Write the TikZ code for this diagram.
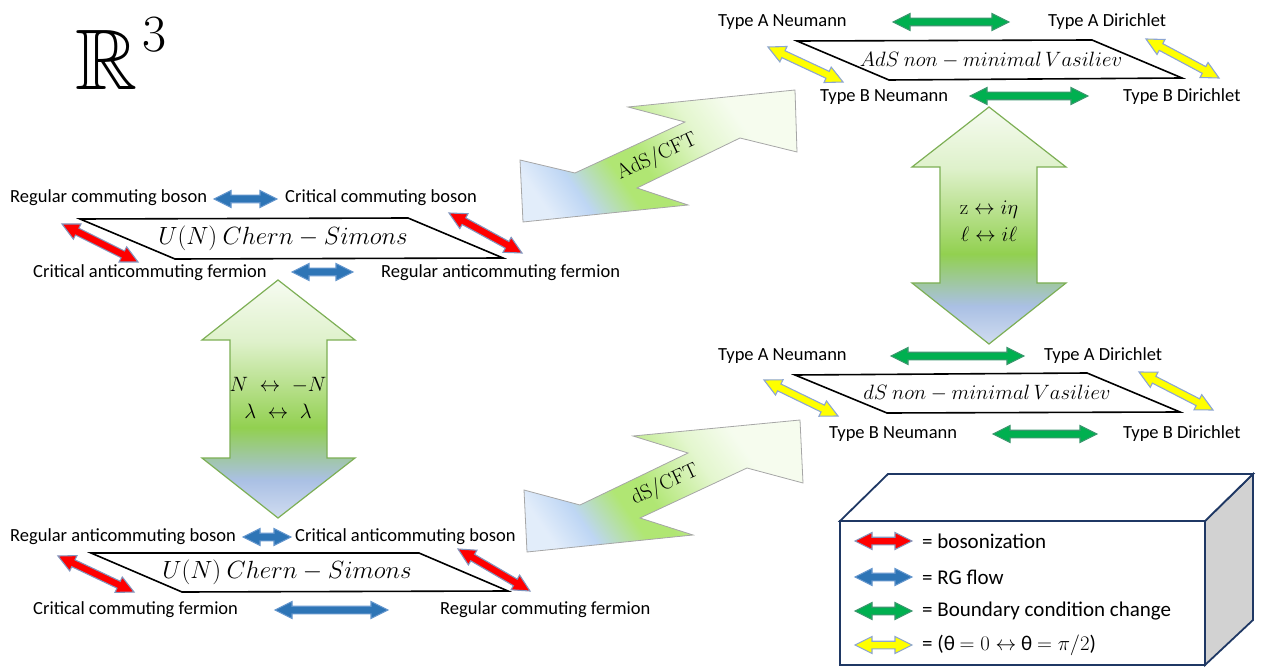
\documentclass[tikz,border=0pt]{standalone}
\usepackage{amssymb}
\usepackage[no-math]{fontspec}
\setmainfont{Carlito}
\usetikzlibrary{calc}

\definecolor{bosred}{RGB}{255,0,0}
\definecolor{bosedge}{RGB}{130,150,190}
\definecolor{rgblue}{RGB}{46,117,182}
\definecolor{rgedge}{RGB}{100,150,205}
\definecolor{bcgreen}{RGB}{0,176,80}
\definecolor{bcedge}{RGB}{60,150,110}
\definecolor{thyellow}{RGB}{255,255,0}
\definecolor{thedge}{RGB}{140,165,210}
\definecolor{dualgreen}{RGB}{146,208,80}
\definecolor{dualblue}{RGB}{170,192,228}
\definecolor{dualedge}{RGB}{125,175,85}
\definecolor{cftgreen}{RGB}{176,230,115}
\definecolor{cftblue}{RGB}{190,214,244}
\definecolor{navy}{RGB}{31,56,100}

\pgfdeclareverticalshading{bigarrowshade}{100bp}{color(0bp)=(dualblue!55!white); color(25bp)=(dualblue!55!white); color(33bp)=(dualblue); color(44bp)=(dualgreen); color(62bp)=(dualgreen!30!white); color(75bp)=(dualgreen!8!white); color(100bp)=(dualgreen!8!white)}
\pgfdeclarehorizontalshading{cftshade}{100bp}{color(0bp)=(cftblue!45!white); color(22bp)=(cftblue!45!white); color(30bp)=(cftblue); color(40bp)=(cftgreen); color(46bp)=(cftgreen); color(60bp)=(cftgreen!35!white); color(70bp)=(cftgreen!12!white); color(100bp)=(cftgreen!12!white)}

\newcommand{\arrowhl}{17pt}
\newcommand{\arrowhw}{8.5pt}
\newcommand{\arrowsw}{3.8pt}
\newcommand{\fatarrow}[3]{%
\draw[#1] (#2) -- ($(#2)!\arrowhl!(#3)!\arrowhw!90:(#3)$) -- ($(#2)!\arrowhl!(#3)!\arrowsw!90:(#3)$) -- ($(#3)!\arrowhl!(#2)!\arrowsw!-90:(#2)$) -- ($(#3)!\arrowhl!(#2)!\arrowhw!-90:(#2)$) -- (#3) -- ($(#3)!\arrowhl!(#2)!\arrowhw!90:(#2)$) -- ($(#3)!\arrowhl!(#2)!\arrowsw!90:(#2)$) -- ($(#2)!\arrowhl!(#3)!\arrowsw!-90:(#3)$) -- ($(#2)!\arrowhl!(#3)!\arrowhw!-90:(#3)$) -- cycle;}

\begin{document}
\begin{tikzpicture}[x=1pt,y=-1pt]

\tikzset{lbl/.style = {anchor=west, inner sep=0pt, font=\fontsize{18.5}{20}\selectfont}}
\tikzset{legendtext/.style = {anchor=west, inner sep=0pt, font=\fontsize{21}{24}\selectfont}}
\tikzset{theory/.style = {draw=black, line width=1.6pt, fill=white, line join=miter}}
\tikzset{theorytext/.style = {inner sep=0pt, font=\fontsize{24}{28}\selectfont}}
\tikzset{bosonization/.style = {fill=bosred, draw=bosedge, line width=1.1pt}}
\tikzset{rgflow/.style = {fill=rgblue, draw=rgedge, line width=1.1pt}}
\tikzset{bcchange/.style = {fill=bcgreen, draw=bcedge, line width=1.1pt}}
\tikzset{thetaflip/.style = {fill=thyellow, draw=thedge, line width=1.1pt}}
\tikzset{duality/.style = {draw=dualedge, line width=1.2pt, shading=bigarrowshade}}
\tikzset{holography/.style = {draw=gray!70, line width=0.8pt, shading=cftshade, shading angle=35}}
\tikzset{maptext/.style = {align=center, inner sep=0pt, font=\fontsize{20}{27}\selectfont}}
\tikzset{legendbox/.style = {draw=navy, line width=1.8pt, line join=miter}}

\useasboundingbox (0,0) rectangle (1261,668);

\node[anchor=base west, inner sep=0pt, font=\fontsize{86}{86}\selectfont] (space) at (75,90) {$\mathbb{R}$};
\node[inner sep=0pt, scale=2.1, font=\fontsize{24.88}{30}\selectfont] (dim) at (154,35) {$3$};

%big arrows
\shadedraw[duality] (278,280) -- (355,340) -- (327,340) -- (327,458) -- (355,458) -- (278,518) -- (202,458) -- (230,458) -- (230,340) -- (202,340) -- cycle;
\shadedraw[duality] (989,107) -- (1066,167) -- (1037,167) -- (1037,283) -- (1066,283) -- (989,344) -- (912,283) -- (940,283) -- (940,167) -- (912,167) -- cycle;
\shadedraw[holography] (520,160) -- (523,222) -- (688,205) -- (637,188) -- (740,138) -- (797,152) -- (795,90) -- (628,107) -- (685,122) -- (575,173) -- cycle;
\shadedraw[holography] (524,490) -- (527,552) -- (693,535) -- (640,518) -- (747,468) -- (803,483) -- (800,420) -- (633,436) -- (688,453) -- (580,505) -- cycle;
\node[maptext] (levelrank) at (278,398) {$N \;\leftrightarrow\; -N$\\$\lambda \;\leftrightarrow\; \lambda$};
\node[maptext] (wickrot) at (989,221) {$\mathrm{z} \leftrightarrow i\eta$\\$\ell \leftrightarrow i\ell$};
\node[font=\fontsize{20}{24}\selectfont, rotate=25] (adscft) at (657,157) {$\mathrm{AdS}/\mathrm{CFT}$};
\node[font=\fontsize{20}{24}\selectfont, rotate=25] (dscft) at (665,485) {$\mathrm{dS}/\mathrm{CFT}$};

%upper Chern-Simons
\draw[theory] (80,219) -- (408,218) -- (503,258) -- (175,259) -- cycle;
\node[theorytext] (csup) at (283,238) {$U(N)\ Chern - Simons$};
\node[lbl] (rcb) at (10,198) {Regular commuting boson};
\node[lbl] (ccb) at (285,198) {Critical commuting boson};
\node[lbl] (caf) at (33,273) {Critical anticommuting fermion};
\node[lbl] (raf) at (381,273) {Regular anticommuting fermion};
\coordinate (up-rl1) at (62,224);
\coordinate (up-rl2) at (138,262);
\coordinate (up-rr1) at (449,213);
\coordinate (up-rr2) at (522,253);
\coordinate (up-bu1) at (214,199);
\coordinate (up-bu2) at (277,199);
\coordinate (up-bd1) at (292,272);
\coordinate (up-bd2) at (353,272);
\fatarrow{bosonization}{up-rl1}{up-rl2}
\fatarrow{bosonization}{up-rr1}{up-rr2}
\fatarrow{rgflow}{up-bu1}{up-bu2}
\fatarrow{rgflow}{up-bd1}{up-bd2}

%lower Chern-Simons
\draw[theory] (91,553) -- (419,553) -- (508,591) -- (182,592) -- cycle;
\node[theorytext] (csdown) at (287,572) {$U(N)\ Chern - Simons$};
\node[lbl] (rab) at (10,537) {Regular anticommuting boson};
\node[lbl] (cab) at (295,537) {Critical anticommuting boson};
\node[lbl] (ccf) at (33,610) {Critical commuting fermion};
\node[lbl] (rcf) at (440,610) {Regular commuting fermion};
\coordinate (dn-rl1) at (58,556);
\coordinate (dn-rl2) at (134,592);
\coordinate (dn-rr1) at (458,549);
\coordinate (dn-rr2) at (530,591);
\coordinate (dn-bu1) at (243,537);
\coordinate (dn-bu2) at (291,537);
\coordinate (dn-bd1) at (275,610);
\coordinate (dn-bd2) at (388,610);
\fatarrow{bosonization}{dn-rl1}{dn-rl2}
\fatarrow{bosonization}{dn-rr1}{dn-rr2}
\fatarrow{rgflow}{dn-bu1}{dn-bu2}
\fatarrow{rgflow}{dn-bd1}{dn-bd2}

%AdS Vasiliev
\draw[theory] (797,41) -- (1092,40) -- (1182,78) -- (889,80) -- cycle;
\node[theorytext, font=\fontsize{20}{24}\selectfont] (adsvas) at (991,60) {$AdS\ non - minimal\, Vasiliev$};
\node[lbl] (ads-an) at (718,22) {Type A Neumann};
\node[lbl] (ads-ad) at (1048,22) {Type A Dirichlet};
\node[lbl] (ads-bn) at (820,97) {Type B Neumann};
\node[lbl] (ads-bd) at (1123,97) {Type B Dirichlet};
\coordinate (ads-gu1) at (893,22);
\coordinate (ads-gu2) at (1009,22);
\coordinate (ads-gd1) at (970,96);
\coordinate (ads-gd2) at (1088,96);
\coordinate (ads-yl1) at (768,47);
\coordinate (ads-yl2) at (843,82);
\coordinate (ads-yr1) at (1146,39);
\coordinate (ads-yr2) at (1219,78);
\fatarrow{bcchange}{ads-gu1}{ads-gu2}
\fatarrow{bcchange}{ads-gd1}{ads-gd2}
\fatarrow{thetaflip}{ads-yl1}{ads-yl2}
\fatarrow{thetaflip}{ads-yr1}{ads-yr2}

%dS Vasiliev
\draw[theory] (795,375) -- (1087,373) -- (1180,412) -- (887,413) -- cycle;
\node[theorytext, font=\fontsize{20}{24}\selectfont] (dsvas) at (987,393) {$dS\ non - minimal\, Vasiliev$};
\node[lbl] (ds-an) at (718,356) {Type A Neumann};
\node[lbl] (ds-ad) at (1044,356) {Type A Dirichlet};
\node[lbl] (ds-bn) at (829,434) {Type B Neumann};
\node[lbl] (ds-bd) at (1123,434) {Type B Dirichlet};
\coordinate (ds-gu1) at (891,356);
\coordinate (ds-gu2) at (1024,356);
\coordinate (ds-gd1) at (993,434);
\coordinate (ds-gd2) at (1097,434);
\coordinate (ds-yl1) at (764,380);
\coordinate (ds-yl2) at (838,416);
\coordinate (ds-yr1) at (1139,372);
\coordinate (ds-yr2) at (1213,410);
\fatarrow{bcchange}{ds-gu1}{ds-gu2}
\fatarrow{bcchange}{ds-gd1}{ds-gd2}
\fatarrow{thetaflip}{ds-yl1}{ds-yl2}
\fatarrow{thetaflip}{ds-yr1}{ds-yr2}

%legend
\draw[legendbox, fill=gray!35] (1205,521) -- (1253,474) -- (1253,620) -- (1205,665) -- cycle;
\draw[legendbox, fill=white] (840,521) -- (888,474) -- (1253,474) -- (1205,521) -- cycle;
\draw[legendbox, fill=white] (840,521) rectangle (1205,665);
\foreach \y/\sty/\txt in {541/bosonization/{= bosonization}, 577/rgflow/{= RG flow}, 611/bcchange/{= Boundary condition change}, 645/thetaflip/{= (θ $= 0 \leftrightarrow$ θ $= \pi/2$)}}{
  \coordinate (key-\sty-a) at (855,\y);
  \coordinate (key-\sty-b) at (912,\y);
  \fatarrow{\sty}{key-\sty-a}{key-\sty-b}
  \node[legendtext] (key-\sty) at (922,\y) {\txt};
}

\end{tikzpicture}
\end{document}
